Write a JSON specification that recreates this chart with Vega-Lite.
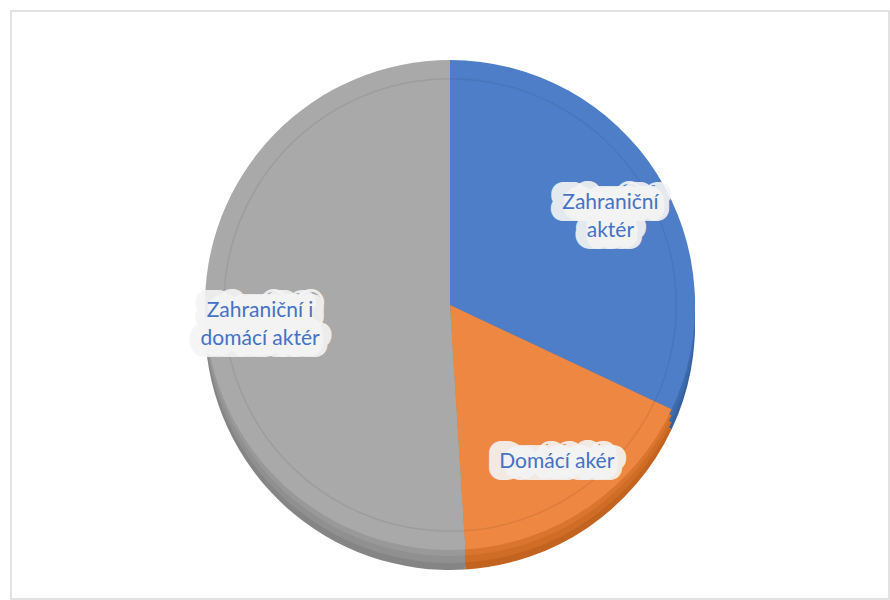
{
  "$schema": "https://vega.github.io/schema/vega-lite/v6.json",
  "width": 890,
  "height": 600,
  "autosize": {"type": "fit", "contains": "padding"},
  "padding": {"left": 10, "top": 10, "right": 0, "bottom": 0},
  "background": "white",
  "config": {"view": {"stroke": null}},
  "data": {
    "values": [
      {"category": "Zahraniční aktér", "label": "Zahraniční|aktér", "value": 32, "order": 1},
      {"category": "Domácí akér", "label": "Domácí akér", "value": 17, "order": 2},
      {"category": "Zahraniční i domácí aktér", "label": "Zahraniční i|domácí aktér", "value": 51, "order": 3}
    ]
  },
  "encoding": {
    "theta": {"field": "value", "type": "quantitative", "stack": true},
    "order": {"field": "order", "type": "quantitative"}
  },
  "layer": [
    {
      "data": {"values": [{"frame": 1}]},
      "mark": {"type": "rect", "fill": null, "stroke": "#d9d9d9", "strokeWidth": 1.5},
      "encoding": {"theta": null, "order": null}
    },
    {
      "mark": {"type": "arc", "outerRadius": 245, "yOffset": 20},
      "encoding": {
        "color": {"field": "category", "type": "nominal", "legend": null,
          "scale": {"domain": ["Zahraniční aktér", "Domácí akér", "Zahraniční i domácí aktér"], "range": ["#34609f", "#c2631f", "#858585"]}}
      }
    },
    {
      "mark": {"type": "arc", "outerRadius": 245, "yOffset": 13},
      "encoding": {
        "color": {"field": "category", "type": "nominal", "legend": null,
          "scale": {"domain": ["Zahraniční aktér", "Domácí akér", "Zahraniční i domácí aktér"], "range": ["#3b68a8", "#cf6c25", "#909090"]}}
      }
    },
    {
      "mark": {"type": "arc", "outerRadius": 245, "yOffset": 6},
      "encoding": {
        "color": {"field": "category", "type": "nominal", "legend": null,
          "scale": {"domain": ["Zahraniční aktér", "Domácí akér", "Zahraniční i domácí aktér"], "range": ["#3f6db0", "#d9752e", "#999999"]}}
      }
    },
    {
      "mark": {"type": "arc", "outerRadius": 245},
      "encoding": {
        "color": {"field": "category", "type": "nominal", "legend": null,
          "scale": {"domain": ["Zahraniční aktér", "Domácí akér", "Zahraniční i domácí aktér"], "range": ["#4f7ec9", "#ed8742", "#a9a9a9"]}}
      }
    },
    {
      "mark": {"type": "arc", "outerRadius": 227, "innerRadius": 225.5, "fill": "#000000", "fillOpacity": 0.07}
    },
    {
      "mark": {"type": "text", "radius": 190, "font": "Lato", "fontSize": 21, "lineBreak": "|", "lineHeight": 28, "color": "#f4f4f4", "fillOpacity": 0.92, "stroke": "#f4f4f4", "strokeOpacity": 0.92, "strokeWidth": 24, "strokeJoin": "round"},
      "encoding": {"text": {"field": "label", "type": "nominal"}}
    },
    {
      "mark": {"type": "text", "radius": 190, "font": "Lato", "fontSize": 21, "lineBreak": "|", "lineHeight": 28, "color": "#4472c4"},
      "encoding": {"text": {"field": "label", "type": "nominal"}}
    }
  ],
  "resolve": {"scale": {"color": "independent"}}
}
